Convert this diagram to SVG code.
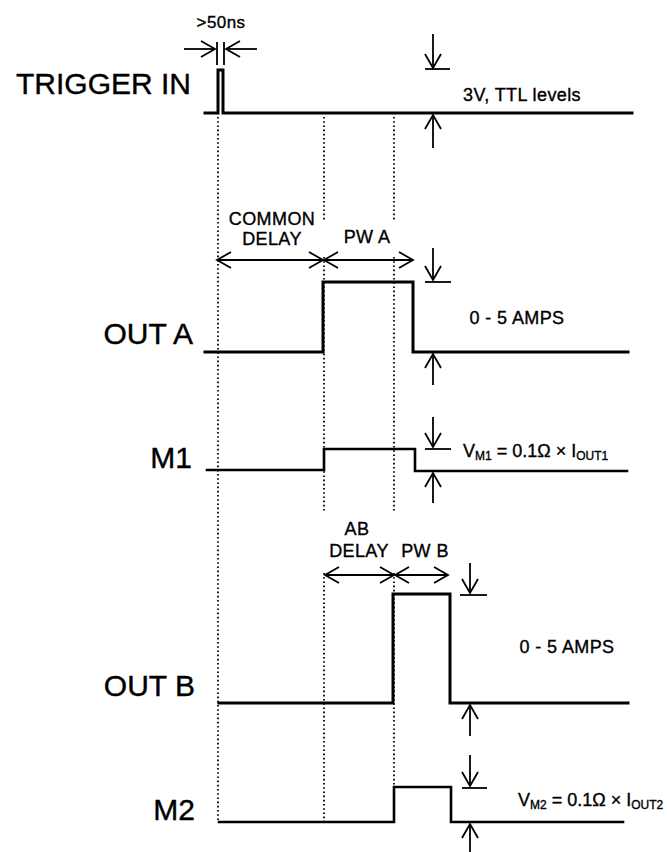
<svg xmlns="http://www.w3.org/2000/svg" width="667" height="852" viewBox="0 0 667 852">
<style>
.bg{fill:#fff}
.sig{fill:none;stroke:#000;stroke-width:3;stroke-linejoin:miter;stroke-linecap:square}
.sig2{fill:none;stroke:#000;stroke-width:2.6;stroke-linejoin:miter;stroke-linecap:square}
.dot{fill:none;stroke:#000;stroke-width:1.8;stroke-dasharray:1.6 2.6}
.arr{fill:none;stroke:#000;stroke-width:1.8;marker-end:url(#ah)}
.darr{fill:none;stroke:#000;stroke-width:1.8;marker-start:url(#ah);marker-end:url(#ah)}
.tick{fill:none;stroke:#000;stroke-width:1.8}
.big{font-family:"Liberation Sans",Arial,sans-serif;font-size:30px;fill:#000;stroke:#000;stroke-width:0.4;text-anchor:end}
.sm{font-family:"Liberation Sans",Arial,sans-serif;font-size:18px;fill:#000;stroke:#000;stroke-width:0.35;text-anchor:middle;letter-spacing:0.4px}
.eq{font-family:"Liberation Sans",Arial,sans-serif;font-size:18px;fill:#000;stroke:#000;stroke-width:0.35}
.sub{font-size:12px}
</style>
<defs>
<marker id="ah" viewBox="-16 -10 18 20" refX="0" refY="0" markerWidth="18" markerHeight="20" markerUnits="userSpaceOnUse" orient="auto-start-reverse">
<path d="M-14,-8 L0,0 L-14,8" fill="none" stroke="#000" stroke-width="1.8"/>
</marker>
</defs>
<rect class="bg" x="0" y="0" width="667" height="852"/>

<g id="connectors">
<path class="dot" d="M218,117 V822"/>
<path class="dot" d="M324,117 V221 M324,257 V512 M324,573 V822"/>
<path class="dot" d="M394,117 V221 M394,257 V512 M394,573 V787"/>
<line class="arr" x1="184" y1="49" x2="215" y2="49"/>
<line class="arr" x1="257" y1="49" x2="226" y2="49"/>
<line class="tick" x1="217" y1="42" x2="217" y2="65"/>
<line class="tick" x1="224" y1="42" x2="224" y2="65"/>
<line class="darr" x1="217" y1="260" x2="323" y2="260"/>
<line class="darr" x1="324" y1="260" x2="413" y2="260"/>
<line class="darr" x1="325" y1="575" x2="394" y2="575"/>
<line class="darr" x1="395" y1="575" x2="448" y2="575"/>
</g>

<g id="trigger">
<text class="big" x="191" y="94">TRIGGER IN</text>
<path class="sig" d="M205,113 H218 V70 H223 V113 H632"/>
<text class="sm" x="522" y="101">3V, TTL levels</text>
<line class="arr" x1="433" y1="34" x2="433" y2="68"/>
<line class="tick" x1="425" y1="69" x2="450" y2="69"/>
<line class="arr" x1="433" y1="148" x2="433" y2="115"/>
<text class="sm" x="221" y="28" style="font-size:17px">&gt;50ns</text>
</g>

<g id="common-delay">
<text class="sm" x="272" y="225">COMMON</text>
<text class="sm" x="272" y="245">DELAY</text>
</g>
<g id="pw-a">
<text class="sm" x="367" y="243">PW A</text>
</g>

<g id="out-a">
<text class="big" x="193" y="344">OUT A</text>
<path class="sig" d="M205,352 H323 V282 H413 V352 H628"/>
<text class="sm" x="517" y="324">0 - 5 AMPS</text>
<line class="arr" x1="433" y1="248" x2="433" y2="280"/>
<line class="tick" x1="425" y1="282" x2="451" y2="282"/>
<line class="arr" x1="433" y1="385" x2="433" y2="354"/>
</g>

<g id="m1">
<text class="big" x="192" y="468">M1</text>
<path class="sig2" d="M207,470 H324 V449 H415 V471 H627"/>
<text class="eq" x="463" y="457">V<tspan class="sub" dy="3">M1</tspan><tspan dy="-3"> = 0.1Ω × I</tspan><tspan class="sub" dy="3">OUT1</tspan></text>
<line class="arr" x1="433" y1="417" x2="433" y2="447"/>
<line class="tick" x1="425" y1="449" x2="451" y2="449"/>
<line class="arr" x1="433" y1="503" x2="433" y2="473"/>
</g>

<g id="ab-delay">
<text class="sm" x="357" y="535">AB</text>
<text class="sm" x="359" y="557">DELAY</text>
</g>
<g id="pw-b">
<text class="sm" x="425" y="557">PW B</text>
</g>

<g id="out-b">
<text class="big" x="195" y="696">OUT B</text>
<path class="sig" d="M219,703 H393 V594 H450 V703 H628"/>
<text class="sm" x="567" y="653">0 - 5 AMPS</text>
<line class="arr" x1="470" y1="563" x2="470" y2="593"/>
<line class="tick" x1="460" y1="595" x2="487" y2="595"/>
<line class="arr" x1="470" y1="736" x2="470" y2="705"/>
</g>

<g id="m2">
<text class="big" x="195" y="820">M2</text>
<path class="sig2" d="M219,822 H394 V787 H451 V822 H623"/>
<text class="eq" x="518" y="806">V<tspan class="sub" dy="3">M2</tspan><tspan dy="-3"> = 0.1Ω × I</tspan><tspan class="sub" dy="3">OUT2</tspan></text>
<line class="arr" x1="470" y1="755" x2="470" y2="786"/>
<line class="tick" x1="462" y1="788" x2="487" y2="788"/>
<line class="arr" x1="470" y1="852" x2="470" y2="824"/>
</g>
</svg>
